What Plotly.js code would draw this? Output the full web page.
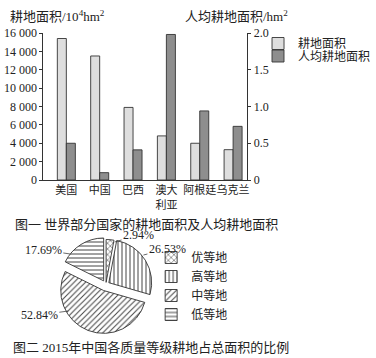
<!DOCTYPE html>
<html><head><meta charset="utf-8">
<script src="https://cdn.plot.ly/plotly-3.0.1.min.js"></script>
<style>html,body{margin:0;padding:0;background:#fff}#chart{width:376px;height:358px}</style>
</head><body><div id="chart"></div>
<script>
const countries = ['美国','中国','巴西','澳大<br>利亚','阿根廷','乌克兰'];
const cropArea = [15400, 13500, 7900, 4800, 4000, 3300];
const perCapita = [0.50, 0.10, 0.41, 1.98, 0.94, 0.73];
const seriesNames = ['耕地面积','人均耕地面积'];
const leftTickVals = [0,2000,4000,6000,8000,10000,12000,14000,16000];
const leftTickText = ['0','2 000','4 000','6 000','8 000','10 000','12 000','14 000','16 000'];
const rightTickVals = [0,0.5,1.0,1.5,2.0];
const rightTickText = ['0','0.5','1.0','1.5','2.0'];
const grades = ['优等地','高等地','中等地','低等地'];
const gradeShare = [2.94, 26.53, 52.84, 17.69];

const FONT = "'Liberation Serif', 'Noto Sans CJK SC', serif";
const INK = '#222';
const W = 376, H = 358;
const px = v => v / W, py = v => (H - v) / H;

const traces = [
  {type:'bar', name:seriesNames[0], x:countries, y:cropArea, xaxis:'x', yaxis:'y',
   width:0.27, offset:-0.27,
   marker:{color:'#dedede', line:{color:'#333', width:0.9}}, legend:'legend'},
  {type:'bar', name:seriesNames[1], x:countries, y:perCapita, xaxis:'x', yaxis:'y2',
   width:0.27, offset:0,
   marker:{color:'#8e8e8e', line:{color:'#333', width:0.9}}, legend:'legend2'},
  {type:'pie', labels:grades, values:gradeShare, sort:false, direction:'clockwise', rotation:0,
   textinfo:'none', hoverinfo:'label+percent',
   pull:[0.05, 0.08, 0.15, 0.1],
   domain:{x:[px(58.8), px(161.2)], y:[py(335.7), py(233.3)]},
   marker:{colors:['#fff','#fff','#fff','#fff'], line:{color:'#333', width:0.9},
     pattern:{shape:['x','|','/','-'], fgcolor:'#444', bgcolor:'#fff', size:4, solidity:0.25}},
   legend:'legend3'}
];

// label anchor points (px) per grade, same order as grades
const pieLabelPos = [
  {x:119, y:242, ax:24, ay:-7},
  {x:149, y:255, ax:24, ay:-6},
  {x:71, y:311, ax:-29, ay:4},
  {x:73, y:254, ax:-27, ay:-4}
];
const annotations = [];
gradeShare.forEach((v,i)=>{
  const p = pieLabelPos[i];
  annotations.push({xref:'paper', yref:'paper', x:px(p.x), y:py(p.y), ax:p.ax, ay:p.ay,
    text:v.toFixed(2)+'%', showarrow:true, arrowhead:0, arrowwidth:0.8, arrowcolor:'#444',
    standoff:0, startstandoff:0, font:{family:FONT, size:12, color:INK}});
});
annotations.push(
  {xref:'paper', yref:'paper', x:px(8), y:py(16), xanchor:'left', yanchor:'middle', showarrow:false,
   text:'耕地面积/10<sup>4</sup>hm<sup>2</sup>', font:{family:FONT, size:13, color:INK}},
  {xref:'paper', yref:'paper', x:px(190), y:py(16), xanchor:'left', yanchor:'middle', showarrow:false,
   text:'人均耕地面积/hm<sup>2</sup>', font:{family:FONT, size:13, color:INK}},
  {xref:'paper', yref:'paper', x:px(14), y:py(224), xanchor:'left', yanchor:'middle', showarrow:false,
   text:'图一 世界部分国家的耕地面积及人均耕地面积', font:{family:FONT, size:13, color:INK}},
  {xref:'paper', yref:'paper', x:px(11), y:py(347), xanchor:'left', yanchor:'middle', showarrow:false,
   text:'图二 2015年中国各质量等级耕地占总面积的比例', font:{family:FONT, size:13, color:INK}}
);

const axisCommon = {showline:true, linecolor:'#333', linewidth:1, showgrid:false, zeroline:false,
  ticks:'outside', ticklen:3, tickcolor:'#333', tickwidth:1,
  tickfont:{family:FONT, size:12, color:INK}, fixedrange:true};

const layout = {
  width:W, height:H, margin:{l:0, r:0, t:0, b:0},
  paper_bgcolor:'#fff', plot_bgcolor:'rgba(0,0,0,0)',
  font:{family:FONT, size:12, color:INK},
  barmode:'overlay', showlegend:true,
  xaxis:{domain:[px(45), px(257)], anchor:'y', range:[-0.69, 5.43], type:'category',
    showline:true, linecolor:'#333', linewidth:1, ticks:'', showgrid:false, zeroline:false,
    tickangle:0, tickfont:{family:FONT, size:11, color:INK}, fixedrange:true},
  yaxis:Object.assign({}, axisCommon, {domain:[py(180), py(33)], anchor:'x', range:[0,16000],
    tickmode:'array', tickvals:leftTickVals, ticktext:leftTickText, side:'left'}),
  yaxis2:Object.assign({}, axisCommon, {overlaying:'y', anchor:'x', side:'right', range:[0,2],
    tickmode:'array', tickvals:rightTickVals, ticktext:rightTickText}),
  legend:{x:px(268), y:py(29), xanchor:'left', yanchor:'top', bgcolor:'rgba(0,0,0,0)',
    font:{family:FONT, size:12, color:INK}},
  legend2:{x:px(268), y:py(41.5), xanchor:'left', yanchor:'top', bgcolor:'rgba(0,0,0,0)',
    font:{family:FONT, size:12, color:INK}},
  legend3:{x:px(157), y:py(243), xanchor:'left', yanchor:'top', bgcolor:'rgba(0,0,0,0)',
    font:{family:FONT, size:12, color:INK}},
  annotations:annotations
};

Plotly.newPlot('chart', traces, layout, {displayModeBar:false, staticPlot:true});
</script></body></html>
